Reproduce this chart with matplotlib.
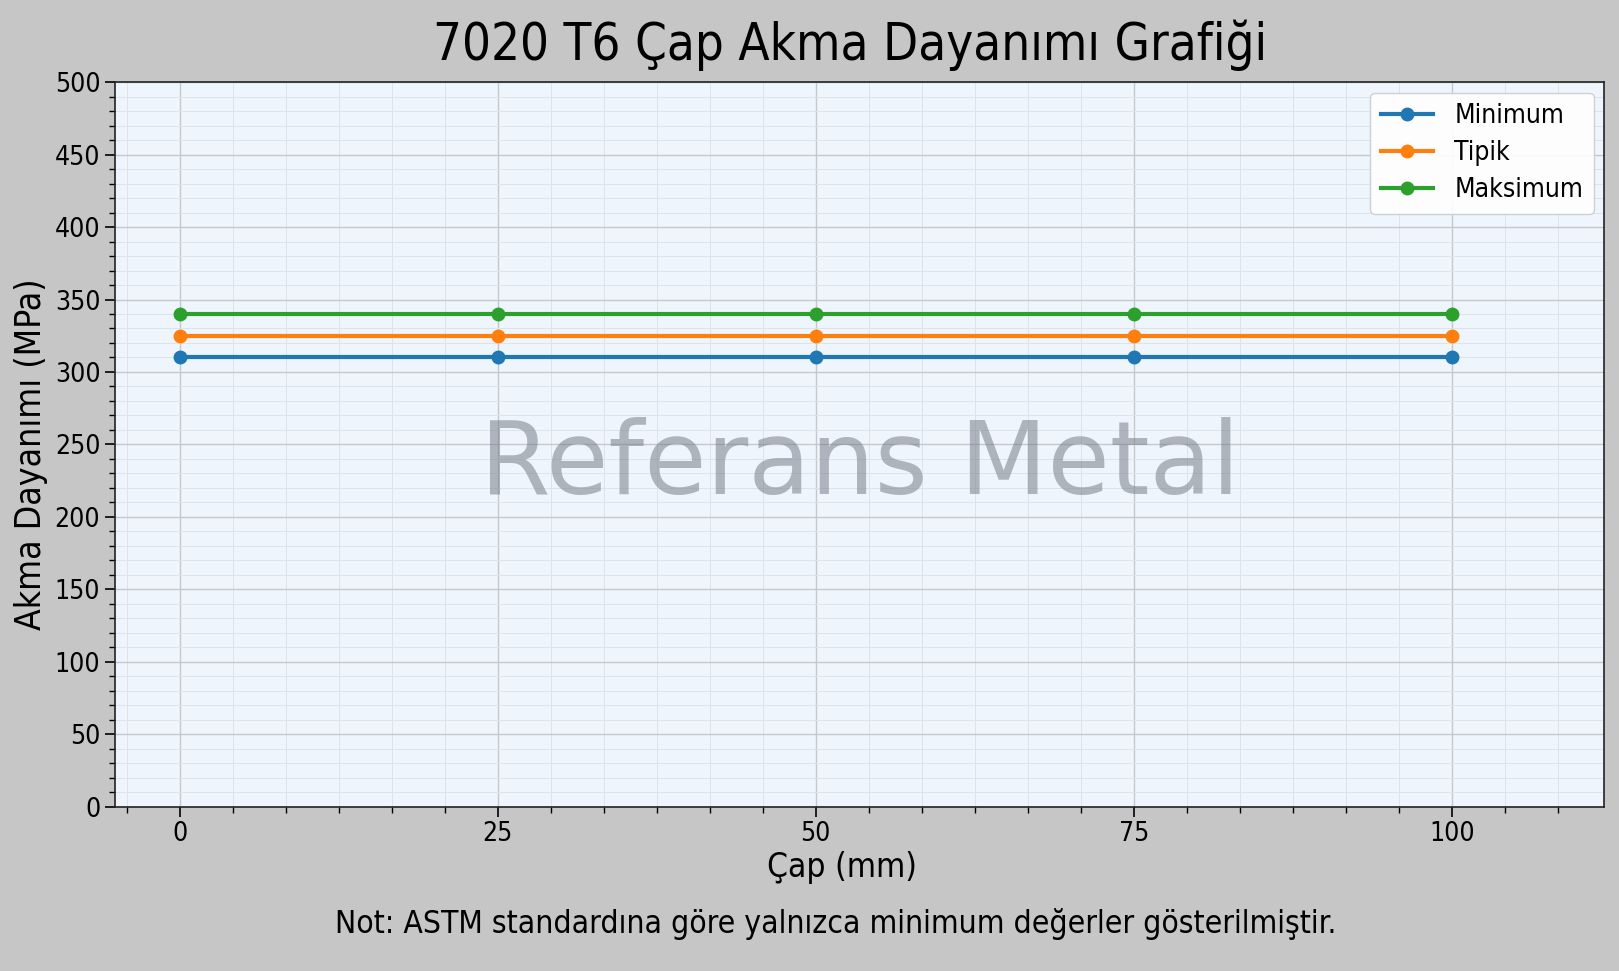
import matplotlib.pyplot as plt
from matplotlib.ticker import AutoMinorLocator
import numpy as np

plt.rcParams['font.stretch'] = 'condensed'

# data
cap_mm = [0, 25, 50, 75, 100]
minimum = [310, 310, 310, 310, 310]
tipik = [325, 325, 325, 325, 325]
maksimum = [340, 340, 340, 340, 340]
series_names = ["Minimum", "Tipik", "Maksimum"]

fig = plt.figure(figsize=(16.19, 9.71), dpi=100, facecolor='#c6c6c6')
ax = fig.add_axes([0.071, 0.169, 0.92, 0.7465])
ax.set_facecolor('#eef5fc')

colors = ['#1f77b4', '#ff7f0e', '#2ca02c']
for vals, name, c in zip([minimum, tipik, maksimum], series_names, colors):
    ax.plot(cap_mm, vals, color=c, lw=3, marker='o', ms=9, label=name, zorder=3)

ax.set_xlim(-5.1, 112)
ax.set_ylim(0, 500)
ax.set_xticks(cap_mm)
ax.set_yticks(np.arange(0, 501, 50))
ax.xaxis.set_minor_locator(AutoMinorLocator(6))
ax.yaxis.set_minor_locator(AutoMinorLocator(5))
ax.grid(which='major', color='#c4c8cc', lw=1.0)
ax.grid(which='minor', color='#dde3ea', lw=0.7)
ax.set_axisbelow(True)
ax.tick_params(which='major', labelsize=19, length=7, width=1.2)
ax.tick_params(which='minor', length=4, width=1)
for s in ax.spines.values():
    s.set_linewidth(1.2)
    s.set_color('#222222')

ax.set_ylabel("Akma Dayanımı (MPa)", fontsize=25.5)
ax.yaxis.set_label_coords(-0.045, 0.487)
fig.text(0.52, 0.107, "Çap (mm)", ha='center', va='center', fontsize=24)
fig.text(0.525, 0.953, "7020 T6 Çap Akma Dayanımı Grafiği", ha='center', va='center',
         fontsize=36.5)

ax.text(0.5, 0.47, "Referans Metal", transform=ax.transAxes, ha='center', va='center',
        fontsize=73, fontstretch='normal', color='#78808a', alpha=0.55, zorder=2)

ax.legend(loc='upper right', fontsize=19, framealpha=0.9, edgecolor='#cccccc',
          handlelength=2.0, labelspacing=0.42, borderaxespad=0.4)

fig.text(0.516, 0.048, "Not: ASTM standardına göre yalnızca minimum değerler gösterilmiştir.",
         ha='center', va='center', fontsize=22.8)

fig.savefig('out.png', dpi=100, facecolor=fig.get_facecolor())
